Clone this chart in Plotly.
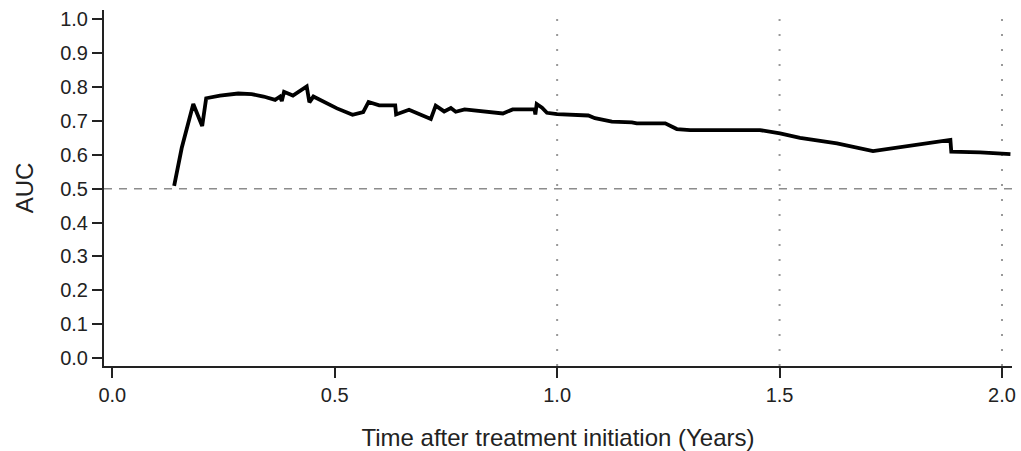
import plotly.graph_objects as go

time_years = [0.139, 0.156, 0.182, 0.202, 0.211, 0.242, 0.283, 0.313, 0.340, 0.366,
              0.377, 0.381, 0.386, 0.406, 0.437, 0.443, 0.452, 0.505, 0.540, 0.564,
              0.576, 0.600, 0.636, 0.638, 0.667, 0.716, 0.727, 0.746, 0.761, 0.772,
              0.792, 0.834, 0.878, 0.900, 0.949, 0.951, 0.954, 0.966, 0.977, 1.000,
              1.070, 1.085, 1.123, 1.168, 1.179, 1.243, 1.269, 1.299, 1.456, 1.501,
              1.546, 1.629, 1.710, 1.884, 1.886, 1.951, 2.019]
auc = [0.508, 0.620, 0.750, 0.685, 0.767, 0.775, 0.781, 0.779, 0.772, 0.762,
       0.772, 0.759, 0.786, 0.775, 0.802, 0.755, 0.772, 0.737, 0.718, 0.726,
       0.756, 0.746, 0.746, 0.719, 0.733, 0.706, 0.745, 0.728, 0.738, 0.727,
       0.734, 0.729, 0.722, 0.734, 0.735, 0.719, 0.750, 0.739, 0.724, 0.720,
       0.716, 0.708, 0.698, 0.696, 0.693, 0.693, 0.676, 0.673, 0.673, 0.663,
       0.650, 0.634, 0.611, 0.644, 0.609, 0.607, 0.602]

x_ticks = [0.0, 0.5, 1.0, 1.5, 2.0]
y_ticks = [0.0, 0.1, 0.2, 0.3, 0.4, 0.5, 0.6, 0.7, 0.8, 0.9, 1.0]
ref_auc = 0.5
ref_times = [1.0, 1.5, 2.0]

font_family = "Liberation Sans, Arial, sans-serif"

fig = go.Figure()
fig.add_trace(go.Scatter(x=time_years, y=auc, mode="lines",
                         line=dict(color="black", width=3.8),
                         showlegend=False, hoverinfo="skip"))

shapes = [dict(type="line", xref="paper", yref="y", x0=0, x1=1, y0=ref_auc, y1=ref_auc,
               line=dict(color="#8c8c8c", width=1.5, dash="8px,7px"), layer="below")]
for t in ref_times:
    shapes.append(dict(type="line", xref="x", yref="paper", x0=t, x1=t, y0=0, y1=1,
                       line=dict(color="#999999", width=2, dash="2px,13px"), layer="below"))

fig.update_layout(
    width=1021, height=451,
    margin=dict(l=104, r=9, t=10, b=85),
    paper_bgcolor="white", plot_bgcolor="white",
    font=dict(family=font_family, size=20, color="#222"),
    shapes=shapes,
    xaxis=dict(range=[-0.0187, 2.0225], tickvals=x_ticks, tickformat=".1f",
               automargin=False,
               showgrid=False, zeroline=False, showline=True, linecolor="#222", linewidth=2,
               ticks="outside", ticklen=10, tickwidth=2, tickcolor="#222",
               title=dict(text="Time after treatment initiation (Years)",
                          font=dict(size=24), standoff=25),
               tickfont=dict(size=20)),
    yaxis=dict(range=[-0.0236, 1.0275], tickvals=y_ticks, tickformat=".1f",
               automargin=False,
               showgrid=False, zeroline=False, showline=True, linecolor="#222", linewidth=2,
               ticks="outside", ticklen=10, tickwidth=2, tickcolor="#222",
               title=dict(text="AUC", font=dict(size=24), standoff=20),
               tickfont=dict(size=20)),
)

fig.write_html("out.html")
